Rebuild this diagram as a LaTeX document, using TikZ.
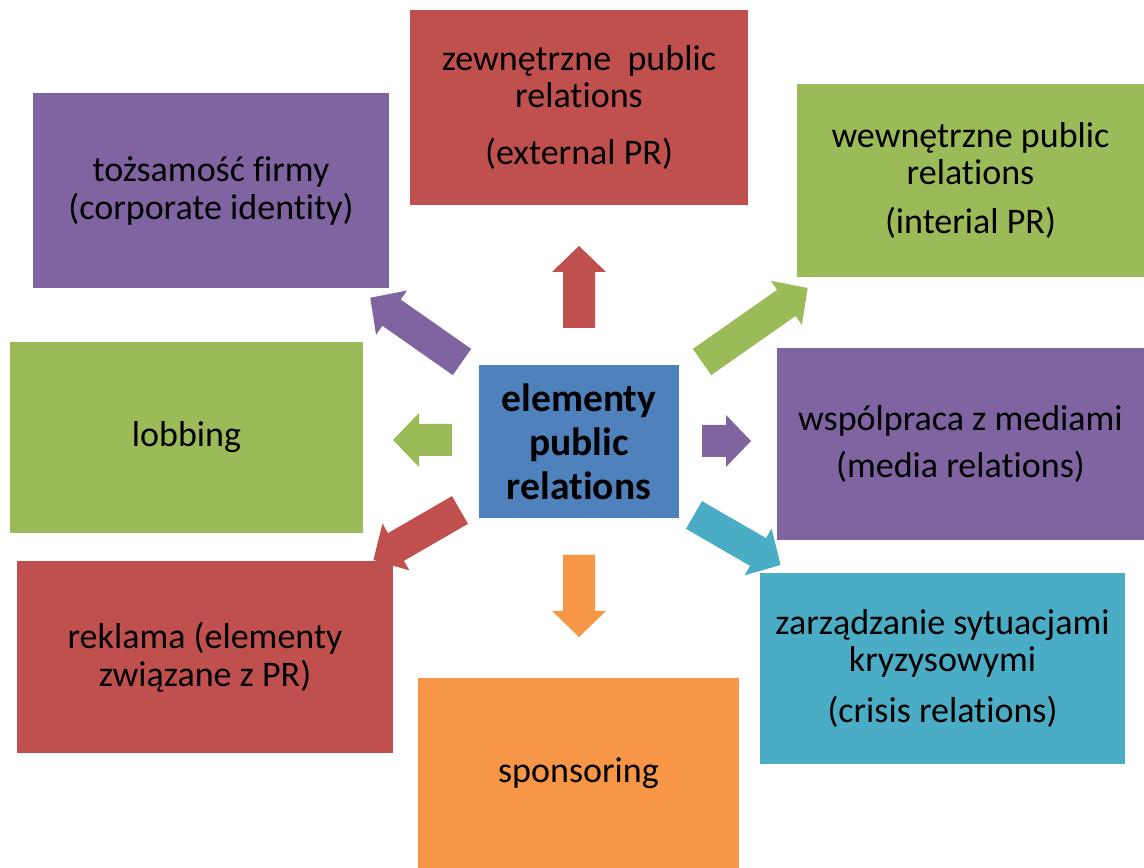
\documentclass[tikz,border=0pt]{standalone}
\usepackage{fontspec}
\setmainfont{Carlito}[RawFeature={-liga;-clig;-dlig}]
\usepackage{tikz}
\usetikzlibrary{positioning}

\definecolor{prred}{HTML}{C0504D}
\definecolor{prpurple}{HTML}{8064A2}
\definecolor{prgreen}{HTML}{9BBB59}
\definecolor{prblue}{HTML}{4F81BD}
\definecolor{prcyan}{HTML}{4BACC6}
\definecolor{prorange}{HTML}{F79646}

\begin{document}
\begin{tikzpicture}[
  x=0.02cm,
  y=0.02cm,
  box/.style={inner sep=0pt, align=center, text=black, font=\fontsize{20.5}{21.6}\selectfont},
  core/.style={box, fill=prblue, font=\fontsize{22.5}{25}\selectfont\bfseries},
  ]
    % page
    \useasboundingbox[fill=white] (0,0) rectangle (1144,868);

%8 strzalek
%ogon -- grot

% gora / dol
\fill[prred, shift={(579,540)}, rotate=90] (0,-16) -- (56,-16) -- (56,-27) -- (82,0) -- (56,27) -- (56,16) -- (0,16) -- cycle;
\fill[prorange, shift={(579,313)}, rotate=-90] (0,-16) -- (56,-16) -- (56,-27) -- (82,0) -- (56,27) -- (56,16) -- (0,16) -- cycle;

% lewo / prawo
\fill[prgreen, shift={(452,428)}, rotate=180] (0,-16) -- (33,-16) -- (33,-27) -- (59,0) -- (33,27) -- (33,16) -- (0,16) -- cycle;
\fill[prpurple, shift={(702,427)}] (0,-16) -- (24,-16) -- (24,-26) -- (49,0) -- (24,26) -- (24,16) -- (0,16) -- cycle;

% ukosne
\fill[prpurple, shift={(462,506)}, rotate=145] (0,-16) -- (86,-16) -- (86,-27) -- (112,0) -- (86,27) -- (86,16) -- (0,16) -- cycle;
\fill[prgreen, shift={(702,506)}, rotate=35] (0,-16) -- (103,-16) -- (103,-27) -- (129,0) -- (103,27) -- (103,16) -- (0,16) -- cycle;
\fill[prred, shift={(460,358)}, rotate=210] (0,-16) -- (74,-16) -- (74,-27) -- (100,0) -- (74,27) -- (74,16) -- (0,16) -- cycle;
\fill[prcyan, shift={(694,353)}, rotate=-30] (0,-16) -- (74,-16) -- (74,-27) -- (100,0) -- (74,27) -- (74,16) -- (0,16) -- cycle;

% srodek
\node[core, minimum width=4cm, minimum height=3.06cm] (core) at (579,426.5) {elementy\\public\\relations};

% gorny rzad
\node[box, fill=prred, minimum width=6.76cm, minimum height=3.9cm] (external) at (579,760.5) {zewnętrzne\ \ public\\relations\\[0.38cm](external PR)};
\node[box, fill=prpurple, minimum width=7.12cm, minimum height=3.9cm] (identity) at (211,677.5) {tożsamość firmy\\(corporate identity)};
\node[box, fill=prgreen, minimum width=6.94cm, minimum height=3.86cm] (internal) at (970.5,687.5) {wewnętrzne public\\relations\\[0.22cm](interial PR)};

% srodkowy rzad
\node[box, fill=prgreen, minimum width=7.06cm, minimum height=3.82cm] (lobbying) at (186.5,430.5) {lobbing};
\node[box, fill=prpurple, minimum width=7.34cm, minimum height=3.84cm] (media) at (960.5,424) {wspólpraca z mediami\\[0.2cm](media relations)};

% dolny rzad
\node[box, fill=prred, minimum width=7.52cm, minimum height=3.84cm] (advert) at (205,211) {reklama (elementy\\związane z PR)};
\node[box, fill=prorange, minimum width=6.42cm, minimum height=3.8cm] (sponsor) at (578.5,95) {sponsoring};
\node[box, fill=prcyan, minimum width=7.3cm, minimum height=3.82cm] (crisis) at (942.5,199.5) {zarządzanie sytuacjami\\kryzysowymi\\[0.26cm](crisis relations)};

\end{tikzpicture}
\end{document}
